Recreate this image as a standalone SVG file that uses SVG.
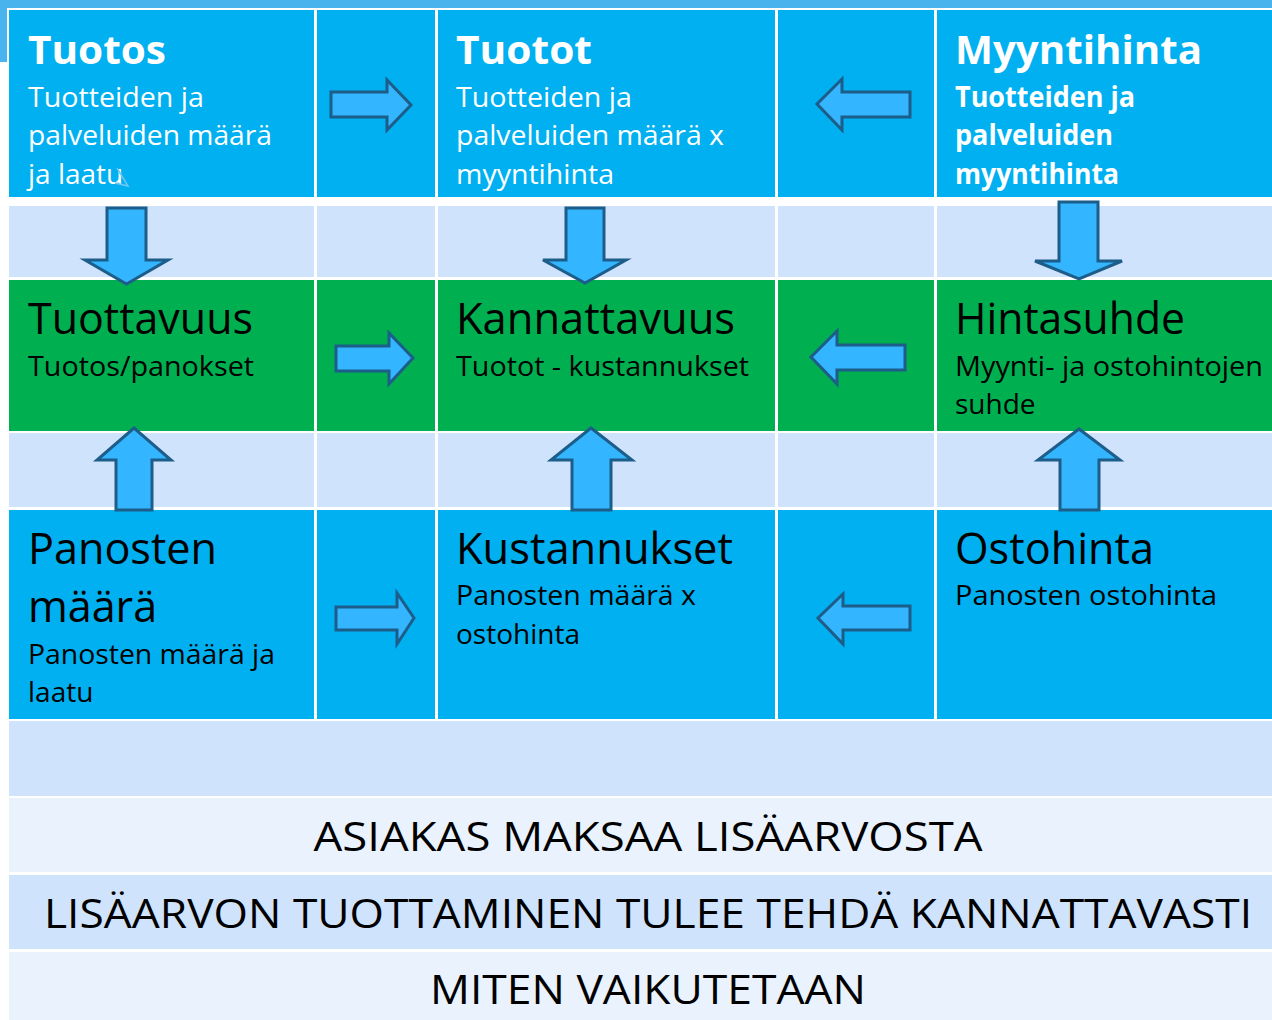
<svg xmlns="http://www.w3.org/2000/svg" width="1272" height="1020" viewBox="0 0 1272 1020">
<style>
.blue{fill:#00b0f0}
.lb{fill:#cfe3fc}
.vl{fill:#e9f2fd}
.gr{fill:#00b050}
.arr{fill:#33b6ff;stroke:#1d5d8a;stroke-width:3;stroke-linejoin:miter}
text{font-family:"Open Sans","Noto Sans","Liberation Sans",sans-serif}
.tw{fill:#fff;font-weight:bold;font-size:40px}
.sw{fill:#fff;font-size:28px}
.swb{fill:#fff;font-size:28px;font-weight:bold}
.tk{fill:#000;font-size:43px}
.sk{fill:#000;font-size:28px}
.big{fill:#000;font-size:40px}
</style>
<rect x="0" y="0" width="1272" height="1020" fill="#fff"/>
<rect x="0" y="0" width="1272" height="8" fill="#48b3ec"/>
<rect x="0" y="0" width="7" height="62" fill="#48b3ec"/>
<g id="grid">
<rect class="blue" x="9" y="10" width="305" height="187"/>
<rect class="blue" x="317" y="10" width="118" height="187"/>
<rect class="blue" x="438" y="10" width="337" height="187"/>
<rect class="blue" x="778" y="10" width="156" height="187"/>
<rect class="blue" x="937" y="10" width="335" height="187"/>
<rect class="lb" x="9" y="206" width="305" height="71"/>
<rect class="lb" x="317" y="206" width="118" height="71"/>
<rect class="lb" x="438" y="206" width="337" height="71"/>
<rect class="lb" x="778" y="206" width="156" height="71"/>
<rect class="lb" x="937" y="206" width="335" height="71"/>
<rect class="gr" x="9" y="280" width="305" height="151"/>
<rect class="gr" x="317" y="280" width="118" height="151"/>
<rect class="gr" x="438" y="280" width="337" height="151"/>
<rect class="gr" x="778" y="280" width="156" height="151"/>
<rect class="gr" x="937" y="280" width="335" height="151"/>
<rect class="lb" x="9" y="433" width="305" height="74"/>
<rect class="lb" x="317" y="433" width="118" height="74"/>
<rect class="lb" x="438" y="433" width="337" height="74"/>
<rect class="lb" x="778" y="433" width="156" height="74"/>
<rect class="lb" x="937" y="433" width="335" height="74"/>
<rect class="blue" x="9" y="510" width="305" height="209"/>
<rect class="blue" x="317" y="510" width="118" height="209"/>
<rect class="blue" x="438" y="510" width="337" height="209"/>
<rect class="blue" x="778" y="510" width="156" height="209"/>
<rect class="blue" x="937" y="510" width="335" height="209"/>
<rect class="lb" x="9" y="721" width="1263" height="75"/>
</g>
<g id="tuotos">
<text class="tw" x="28" y="64" textLength="138" lengthAdjust="spacingAndGlyphs">Tuotos</text>
<text class="sw" x="28" y="107" textLength="176" lengthAdjust="spacingAndGlyphs">Tuotteiden ja</text>
<text class="sw" x="28" y="145" textLength="244" lengthAdjust="spacingAndGlyphs">palveluiden määrä</text>
<text class="sw" x="28" y="184">ja laatu</text>
<path d="M117 168 L128 186 L115 183" fill="none" stroke="#6cc8f5" stroke-width="1.5"/>
</g>
<g id="tuotot">
<text class="tw" x="456" y="64" textLength="136" lengthAdjust="spacingAndGlyphs">Tuotot</text>
<text class="sw" x="456" y="107" textLength="176" lengthAdjust="spacingAndGlyphs">Tuotteiden ja</text>
<text class="sw" x="456" y="145" textLength="268" lengthAdjust="spacingAndGlyphs">palveluiden määrä x</text>
<text class="sw" x="456" y="184" textLength="158" lengthAdjust="spacingAndGlyphs">myyntihinta</text>
</g>
<g id="myyntihinta">
<text class="tw" x="955" y="64" textLength="247" lengthAdjust="spacingAndGlyphs">Myyntihinta</text>
<text class="swb" x="955" y="107" textLength="180" lengthAdjust="spacingAndGlyphs">Tuotteiden ja</text>
<text class="swb" x="955" y="145" textLength="158" lengthAdjust="spacingAndGlyphs">palveluiden</text>
<text class="swb" x="955" y="184" textLength="164" lengthAdjust="spacingAndGlyphs">myyntihinta</text>
</g>
<g id="tuottavuus">
<text class="tk" x="28" y="334" textLength="225" lengthAdjust="spacingAndGlyphs">Tuottavuus</text>
<text class="sk" x="28" y="376" textLength="226" lengthAdjust="spacingAndGlyphs">Tuotos/panokset</text>
</g>
<g id="kannattavuus">
<text class="tk" x="456" y="334" textLength="279" lengthAdjust="spacingAndGlyphs">Kannattavuus</text>
<text class="sk" x="456" y="376" textLength="293" lengthAdjust="spacingAndGlyphs">Tuotot - kustannukset</text>
</g>
<g id="hintasuhde">
<text class="tk" x="955" y="334" textLength="230" lengthAdjust="spacingAndGlyphs">Hintasuhde</text>
<text class="sk" x="955" y="376" textLength="308" lengthAdjust="spacingAndGlyphs">Myynti- ja ostohintojen</text>
<text class="sk" x="955" y="414">suhde</text>
</g>
<g id="panosten">
<text class="tk" x="28" y="564" textLength="189" lengthAdjust="spacingAndGlyphs">Panosten</text>
<text class="tk" x="28" y="622">määrä</text>
<text class="sk" x="28" y="664" textLength="247" lengthAdjust="spacingAndGlyphs">Panosten määrä ja</text>
<text class="sk" x="28" y="702">laatu</text>
</g>
<g id="kustannukset">
<text class="tk" x="456" y="564" textLength="277" lengthAdjust="spacingAndGlyphs">Kustannukset</text>
<text class="sk" x="456" y="605" textLength="240" lengthAdjust="spacingAndGlyphs">Panosten määrä x</text>
<text class="sk" x="456" y="644">ostohinta</text>
</g>
<g id="ostohinta">
<text class="tk" x="955" y="564" textLength="199" lengthAdjust="spacingAndGlyphs">Ostohinta</text>
<text class="sk" x="955" y="605" textLength="262" lengthAdjust="spacingAndGlyphs">Panosten ostohinta</text>
</g>
<g id="asiakas">
<rect class="vl" x="9" y="798" width="1263" height="74"/>
<text class="big" x="648" y="851" text-anchor="middle" textLength="669" lengthAdjust="spacingAndGlyphs">ASIAKAS MAKSAA LISÄARVOSTA</text>
</g>
<g id="lisaarvon">
<rect class="lb" x="9" y="875" width="1263" height="74"/>
<text class="big" x="648" y="928" text-anchor="middle" textLength="1208" lengthAdjust="spacingAndGlyphs">LISÄARVON TUOTTAMINEN TULEE TEHDÄ KANNATTAVASTI</text>
</g>
<g id="miten">
<rect class="vl" x="9" y="952" width="1263" height="68"/>
<text class="big" x="648" y="1004" text-anchor="middle" textLength="436" lengthAdjust="spacingAndGlyphs">MITEN VAIKUTETAAN</text>
</g>
<g id="connectors">
<polygon class="arr" points="331,92 387,92 387,80 411,105 387,130 387,117 331,117"/>
<polygon class="arr" points="910,92 842,92 842,79 817,104 842,130 842,117 910,117"/>
<polygon class="arr" points="336,346 389,346 389,333 413,358 389,384 389,371 336,371"/>
<polygon class="arr" points="905,345 837,345 837,331 811,357 837,384 837,370 905,370"/>
<polygon class="arr" points="336,607 397,607 397,593 414,618 397,644 397,630 336,630"/>
<polygon class="arr" points="910,606 843,606 843,594 818,618 843,644 843,630 910,630"/>
<polygon class="arr" points="107,208 146,208 146,260 168,260 126.5,284 85,260 107,260"/>
<polygon class="arr" points="566,208 604,208 604,260 626,260 585,283 543,260 566,260"/>
<polygon class="arr" points="1059,202 1098,202 1098,261 1122,261 1079,279 1035,261 1059,261"/>
<polygon class="arr" points="116,510 152,510 152,460 171,460 134,428 97,460 116,460"/>
<polygon class="arr" points="572,510 611,510 611,460 632,460 591,428 551,460 572,460"/>
<polygon class="arr" points="1060,510 1099,510 1099,460 1120,460 1079,429 1038,460 1060,460"/>
</g>
</svg>
